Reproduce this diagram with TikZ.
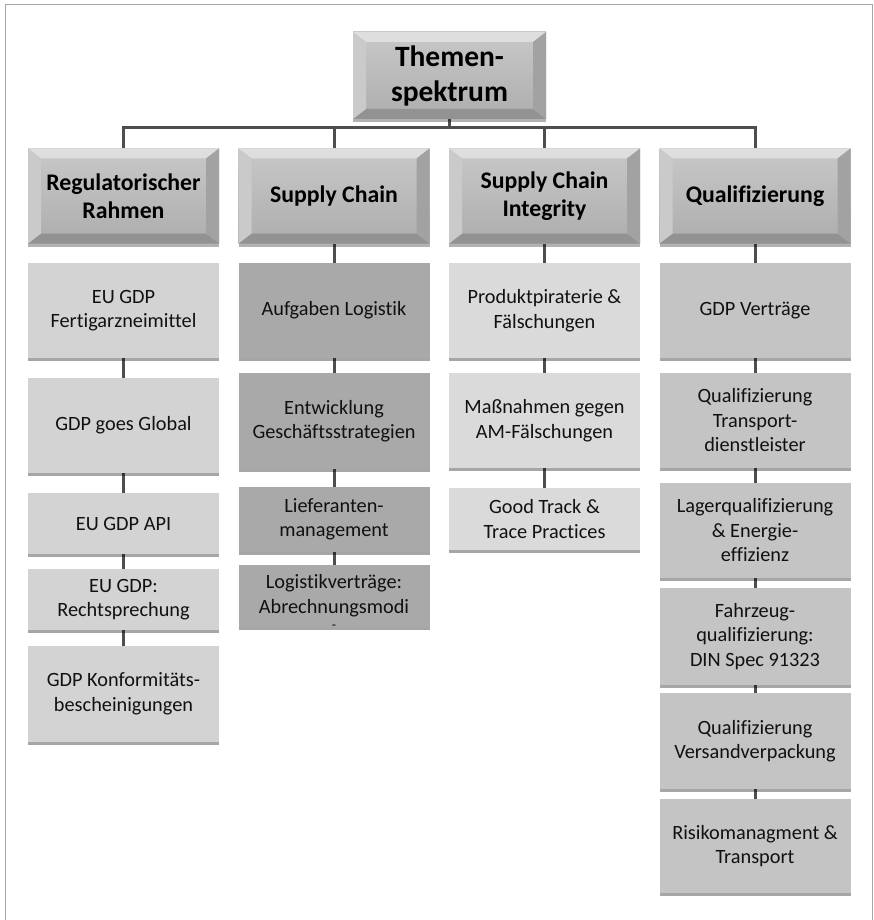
\documentclass[tikz,border=0pt]{standalone}
\usepackage{fontspec}
\setmainfont{Carlito}[Ligatures=NoCommon]
\usetikzlibrary{shadows,backgrounds}
\definecolor{cA}{HTML}{D3D3D3}
\definecolor{cB}{HTML}{A9A9A9}
\definecolor{cC}{HTML}{DADADA}
\definecolor{cD}{HTML}{C4C4C4}
\definecolor{connc}{HTML}{4E4E4E}
\definecolor{framec}{HTML}{A6A6A6}
\definecolor{bvtop}{HTML}{DEDEDE}
\definecolor{bvleft}{HTML}{CACACA}
\definecolor{bvright}{HTML}{A2A2A2}
\definecolor{bvbot}{HTML}{929292}
\definecolor{facetop}{HTML}{C8C8C8}
\definecolor{facebot}{HTML}{ADADAD}
\definecolor{txt}{HTML}{111111}
\newcommand\cbx[6]{%
  \pgfmathsetmacro\myCY{(#4+#5)/2}%
  \pgfmathsetmacro\myCH{#5-#4}%
  \node[childbox,#2,minimum height=\myCH pt] (#1) at (#3,\myCY) {#6};}
\begin{document}
\begin{tikzpicture}[x=1pt,y=-1pt,
  conn/.style={draw=connc,line width=3pt},
  childbox/.style={rectangle,inner sep=0pt,align=center,minimum width=191pt,
    text=txt,font=\fontsize{20.3}{24.5}\selectfont,
    drop shadow={shadow xshift=0pt,shadow yshift=-2.5pt,opacity=0.35,fill=black}},
  ctext/.style={inner sep=0pt,align=center,text=txt,font=\fontsize{20.3}{24.5}\selectfont},
  bevelbox/.style={rectangle,inner sep=0pt,align=center,text=black,
    top color=facetop,bottom color=facebot,
    drop shadow={shadow xshift=0pt,shadow yshift=-3pt,opacity=0.3,fill=black},
    path picture={
      \fill[bvtop] (path picture bounding box.north west) -- (path picture bounding box.north east)
        -- ([shift={(-13pt,-10pt)}]path picture bounding box.north east)
        -- ([shift={(13pt,-10pt)}]path picture bounding box.north west) -- cycle;
      \fill[bvbot] (path picture bounding box.south west) -- (path picture bounding box.south east)
        -- ([shift={(-13pt,10pt)}]path picture bounding box.south east)
        -- ([shift={(13pt,10pt)}]path picture bounding box.south west) -- cycle;
      \fill[bvleft] (path picture bounding box.north west) -- (path picture bounding box.south west)
        -- ([shift={(13pt,10pt)}]path picture bounding box.south west)
        -- ([shift={(13pt,-10pt)}]path picture bounding box.north west) -- cycle;
      \fill[bvright] (path picture bounding box.north east) -- (path picture bounding box.south east)
        -- ([shift={(-13pt,10pt)}]path picture bounding box.south east)
        -- ([shift={(-13pt,-10pt)}]path picture bounding box.north east) -- cycle;
    }},
  headbox/.style={bevelbox,minimum width=191pt,minimum height=95pt,
    font=\fontsize{23.8}{27.5}\selectfont\bfseries},
  topbox/.style={bevelbox,minimum width=193pt,minimum height=87pt,
    font=\fontsize{29.5}{35}\selectfont\bfseries}
]
\useasboundingbox (0,0) rectangle (874,920);
\draw[framec,line width=1pt] (5,920) -- (5,4.5) -- (872,4.5) -- (872,920);

% top and headings
\node[topbox] (top) at (449.5,75.5) {Themen-\\spektrum};
\node[headbox] (h1) at (123.5,196) {Regulatorischer\\Rahmen};
\node[headbox] (h2) at (334,196) {Supply Chain};
\node[headbox] (h3) at (544.5,196) {Supply Chain\\Integrity};
\node[headbox] (h4) at (755,196) {Qualifizierung};
\coordinate (bar) at (0,128);

% column 1
\cbx{a1}{fill=cA}{123.5}{263}{358}{EU GDP\\Fertigarzneimittel}
\cbx{a2}{fill=cA}{123.5}{378}{473}{GDP goes Global}
\cbx{a3}{fill=cA}{123.5}{493}{554}{EU GDP API}
\cbx{a4}{fill=cA}{123.5}{569}{630}{EU GDP:\\Rechtsprechung}
\cbx{a5}{fill=cA}{123.5}{646}{742}{GDP Konformitäts-\\bescheinigungen}

% column 2
\cbx{b1}{fill=cB}{334}{263}{358}{Aufgaben Logistik}
\cbx{b2}{fill=cB}{334}{373}{469}{Entwicklung\\Geschäftsstrategien}
\cbx{b3}{fill=cB}{334}{487}{552}{Lieferanten-\\management}
\cbx{b4}{fill=cB}{334}{565}{627}{}
\node[ctext] (b4t) at (334,602) {Logistikverträge:\\Abrechnungsmodi\\[-8pt]{\fontsize{14}{14}\selectfont -}};

% column 3
\cbx{c1}{fill=cC}{544.5}{263}{358}{Produktpiraterie \&\\Fälschungen}
\cbx{c2}{fill=cC}{544.5}{373}{468}{Maßnahmen gegen\\AM-Fälschungen}
\cbx{c3}{fill=cC}{544.5}{488}{550}{Good Track \&\\Trace Practices}

% column 4
\cbx{d1}{fill=cD}{755}{263}{358}{GDP Verträge}
\cbx{d2}{fill=cD}{755}{373}{468}{Qualifizierung\\Transport-\\dienstleister}
\cbx{d3}{fill=cD}{755}{483}{578}{Lagerqualifizierung\\\& Energie-\\effizienz}
\cbx{d4}{fill=cD}{755}{588}{685}{Fahrzeug-\\qualifizierung:\\DIN Spec 91323}
\cbx{d5}{fill=cD}{755}{693}{789}{Qualifizierung\\Versandverpackung}
\cbx{d6}{fill=cD}{755}{799}{893}{Risikomanagment \&\\Transport}

\begin{scope}[on background layer]
  \draw[conn] (top.south) -- (top.south |- bar);
  \draw[conn] (h1.north) -- (h1.north |- bar) -- (h4.north |- bar) -- (h4.north);
  \draw[conn] (h2.north) -- (h2.north |- bar);
  \draw[conn] (h3.north) -- (h3.north |- bar);
  \draw[conn] (a1) -- (a2);
  \draw[conn] (a2) -- (a3);
  \draw[conn] (a3) -- (a4);
  \draw[conn] (a4) -- (a5);
  \draw[conn] (h2) -- (b1);
  \draw[conn] (b1) -- (b2);
  \draw[conn] (b2) -- (b3);
  \draw[conn] (b3) -- (b4);
  \draw[conn] (h3) -- (c1);
  \draw[conn] (c1) -- (c2);
  \draw[conn] (c2) -- (c3);
  \draw[conn] (h4) -- (d1);
  \draw[conn] (d1) -- (d2);
  \draw[conn] (d2) -- (d3);
  \draw[conn] (d3) -- (d4);
  \draw[conn] (d4) -- (d5);
  \draw[conn] (d5) -- (d6);
\end{scope}
\end{tikzpicture}
\end{document}
